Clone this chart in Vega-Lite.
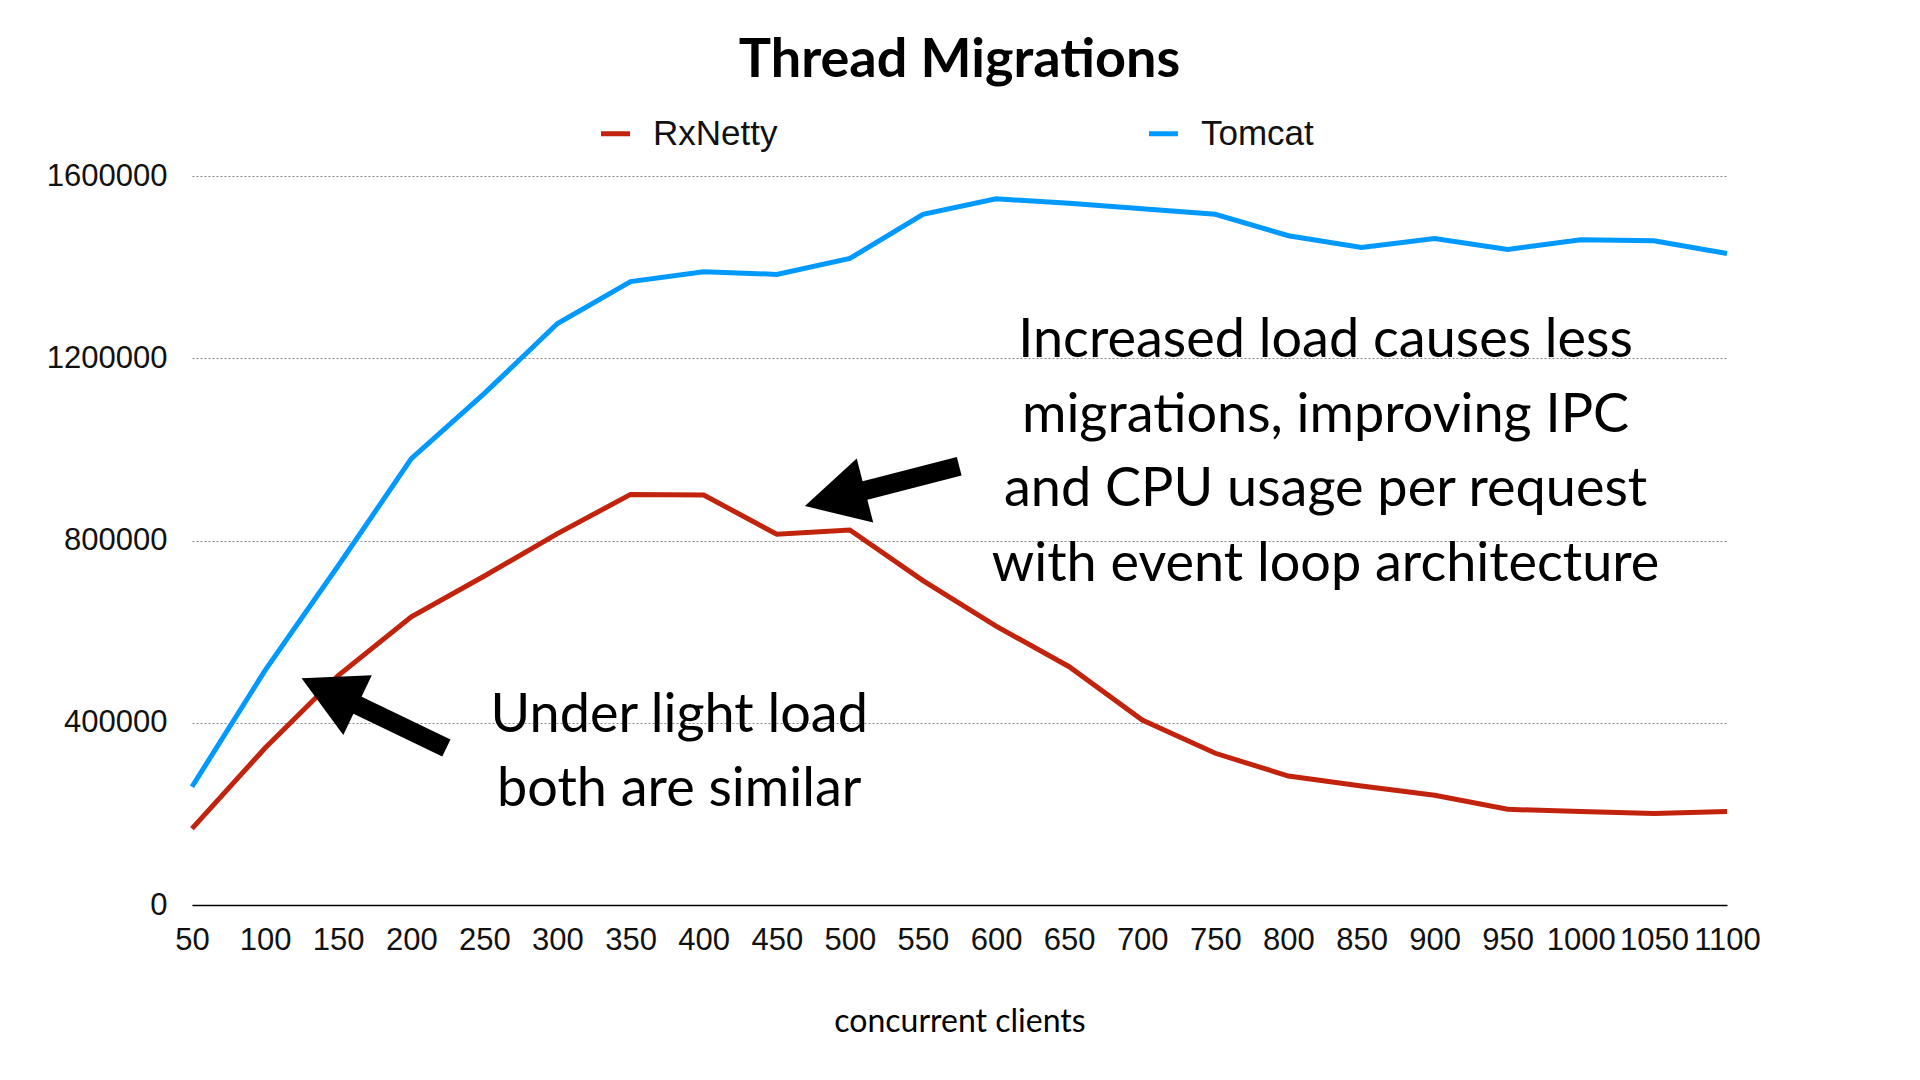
{
  "$schema": "https://vega.github.io/schema/vega-lite/v6.json",
  "width": 1535,
  "height": 729,
  "autosize": {"type": "none"},
  "padding": {"left": 192, "top": 176, "right": 193, "bottom": 175},
  "background": "white",
  "title": {
    "text": "Thread Migrations",
    "font": "Lato",
    "fontSize": 54,
    "fontWeight": "bold",
    "color": "#000000",
    "anchor": "middle",
    "frame": "group",
    "baseline": "alphabetic",
    "offset": 40,
    "dy": 55
  },
  "datasets": {
    "series": [
      {"clients": 50, "series": "RxNetty", "migrations": 167700},
      {"clients": 100, "series": "RxNetty", "migrations": 344600},
      {"clients": 150, "series": "RxNetty", "migrations": 503700},
      {"clients": 200, "series": "RxNetty", "migrations": 632500},
      {"clients": 250, "series": "RxNetty", "migrations": 722100},
      {"clients": 300, "series": "RxNetty", "migrations": 815000},
      {"clients": 350, "series": "RxNetty", "migrations": 901200},
      {"clients": 400, "series": "RxNetty", "migrations": 900000},
      {"clients": 450, "series": "RxNetty", "migrations": 813700},
      {"clients": 500, "series": "RxNetty", "migrations": 823000},
      {"clients": 550, "series": "RxNetty", "migrations": 712000},
      {"clients": 600, "series": "RxNetty", "migrations": 612000},
      {"clients": 650, "series": "RxNetty", "migrations": 523000},
      {"clients": 700, "series": "RxNetty", "migrations": 406000},
      {"clients": 750, "series": "RxNetty", "migrations": 333000},
      {"clients": 800, "series": "RxNetty", "migrations": 283000},
      {"clients": 850, "series": "RxNetty", "migrations": 261000},
      {"clients": 900, "series": "RxNetty", "migrations": 241000},
      {"clients": 950, "series": "RxNetty", "migrations": 210000},
      {"clients": 1000, "series": "RxNetty", "migrations": 205000},
      {"clients": 1050, "series": "RxNetty", "migrations": 201000},
      {"clients": 1100, "series": "RxNetty", "migrations": 205000},
      {"clients": 50, "series": "Tomcat", "migrations": 259600},
      {"clients": 100, "series": "Tomcat", "migrations": 514900},
      {"clients": 150, "series": "Tomcat", "migrations": 744500},
      {"clients": 200, "series": "Tomcat", "migrations": 979500},
      {"clients": 250, "series": "Tomcat", "migrations": 1122800},
      {"clients": 300, "series": "Tomcat", "migrations": 1276200},
      {"clients": 350, "series": "Tomcat", "migrations": 1368200},
      {"clients": 400, "series": "Tomcat", "migrations": 1390000},
      {"clients": 450, "series": "Tomcat", "migrations": 1384000},
      {"clients": 500, "series": "Tomcat", "migrations": 1419000},
      {"clients": 550, "series": "Tomcat", "migrations": 1516000},
      {"clients": 600, "series": "Tomcat", "migrations": 1550000},
      {"clients": 650, "series": "Tomcat", "migrations": 1540000},
      {"clients": 700, "series": "Tomcat", "migrations": 1528000},
      {"clients": 750, "series": "Tomcat", "migrations": 1516000},
      {"clients": 800, "series": "Tomcat", "migrations": 1469000},
      {"clients": 850, "series": "Tomcat", "migrations": 1443000},
      {"clients": 900, "series": "Tomcat", "migrations": 1463000},
      {"clients": 950, "series": "Tomcat", "migrations": 1439000},
      {"clients": 1000, "series": "Tomcat", "migrations": 1460000},
      {"clients": 1050, "series": "Tomcat", "migrations": 1458000},
      {"clients": 1100, "series": "Tomcat", "migrations": 1430000}
    ],
    "arrows": [
      {"arrow": "light", "tailClients": 224, "tailValue": 344600, "headClients": 144.1, "headValue": 468100},
      {"arrow": "heavy", "tailClients": 574.8, "tailValue": 962900, "headClients": 489.8, "headValue": 892600}
    ],
    "notes": [
      {"line": "Under light load", "noteClients": 383.3, "noteValue": 379700},
      {"line": "both are similar", "noteClients": 383.3, "noteValue": 217300},
      {"line": "Increased load causes less", "noteClients": 825.4, "noteValue": 1202800},
      {"line": "migrations, improving IPC", "noteClients": 825.4, "noteValue": 1038100},
      {"line": "and CPU usage per request", "noteClients": 825.4, "noteValue": 875700},
      {"line": "with event loop architecture", "noteClients": 825.4, "noteValue": 711100}
    ]
  },
  "layer": [
    {
      "data": {"name": "series"},
      "mark": {"type": "line", "strokeWidth": 5, "strokeJoin": "miter", "strokeCap": "butt"},
      "encoding": {
        "x": {
          "field": "clients",
          "type": "quantitative",
          "scale": {"domain": [50, 1100], "nice": false, "zero": false},
          "axis": {
            "title": "concurrent clients",
            "values": [50, 100, 150, 200, 250, 300, 350, 400, 450, 500, 550, 600, 650, 700, 750, 800, 850, 900, 950, 1000, 1050, 1100],
            "format": "d",
            "grid": false,
            "ticks": false,
            "tickSize": 0,
            "domain": true,
            "domainColor": "#000000",
            "domainWidth": 1.5,
            "labelFont": "Liberation Sans",
            "labelFontSize": 31,
            "labelColor": "#111111",
            "labelPadding": 20,
            "labelOverlap": false,
            "labelFlush": false,
            "titleFont": "Lato",
            "titleFontSize": 32,
            "titleFontWeight": "normal",
            "titleColor": "#000000",
            "titleBaseline": "alphabetic",
            "titleY": 126
          }
        },
        "y": {
          "field": "migrations",
          "type": "quantitative",
          "scale": {"domain": [0, 1600000], "nice": false},
          "axis": {
            "title": null,
            "values": [0, 400000, 800000, 1200000, 1600000],
            "format": "d",
            "grid": true,
            "gridColor": "#888888",
            "gridDash": [2, 2],
            "gridWidth": 1,
            "ticks": false,
            "tickSize": 0,
            "domain": false,
            "labelFont": "Liberation Sans",
            "labelFontSize": 31,
            "labelColor": "#111111",
            "labelPadding": 25
          }
        },
        "color": {
          "field": "series",
          "type": "nominal",
          "scale": {"domain": ["RxNetty", "Tomcat"], "range": ["#C1230D", "#0099FF"]},
          "legend": {
            "title": null,
            "orient": "none",
            "legendX": 406,
            "legendY": -60,
            "direction": "horizontal",
            "symbolType": "stroke",
            "symbolStrokeWidth": 5,
            "symbolSize": 841,
            "labelFont": "Liberation Sans",
            "labelFontSize": 35,
            "labelColor": "#111111",
            "labelOffset": 20,
            "columnPadding": 361,
            "labelLimit": 400
          }
        }
      }
    },
    {
      "data": {"name": "arrows"},
      "mark": {"type": "rule", "strokeWidth": 19, "color": "#000000", "strokeCap": "butt"},
      "encoding": {
        "x": {"field": "tailClients", "type": "quantitative"},
        "y": {"field": "tailValue", "type": "quantitative"},
        "x2": {"field": "headClients"},
        "y2": {"field": "headValue"}
      }
    },
    {
      "data": {"name": "arrows"},
      "transform": [{"filter": "datum.arrow === 'light'"}],
      "mark": {"type": "point", "shape": "M0,-0.94L1,0.94L-1,0.94Z", "filled": true, "color": "#000000", "opacity": 1, "size": 4356, "angle": -64.4},
      "encoding": {
        "x": {"field": "headClients", "type": "quantitative"},
        "y": {"field": "headValue", "type": "quantitative"}
      }
    },
    {
      "data": {"name": "arrows"},
      "transform": [{"filter": "datum.arrow === 'heavy'"}],
      "mark": {"type": "point", "shape": "M0,-0.94L1,0.94L-1,0.94Z", "filled": true, "color": "#000000", "opacity": 1, "size": 4356, "angle": -104.5},
      "encoding": {
        "x": {"field": "headClients", "type": "quantitative"},
        "y": {"field": "headValue", "type": "quantitative"}
      }
    },
    {
      "data": {"name": "notes"},
      "mark": {"type": "text", "font": "Lato", "fontSize": 54, "color": "#000000", "align": "center", "baseline": "alphabetic"},
      "encoding": {
        "x": {"field": "noteClients", "type": "quantitative"},
        "y": {"field": "noteValue", "type": "quantitative"},
        "text": {"field": "line"}
      }
    }
  ],
  "config": {
    "view": {"stroke": null}
  }
}
